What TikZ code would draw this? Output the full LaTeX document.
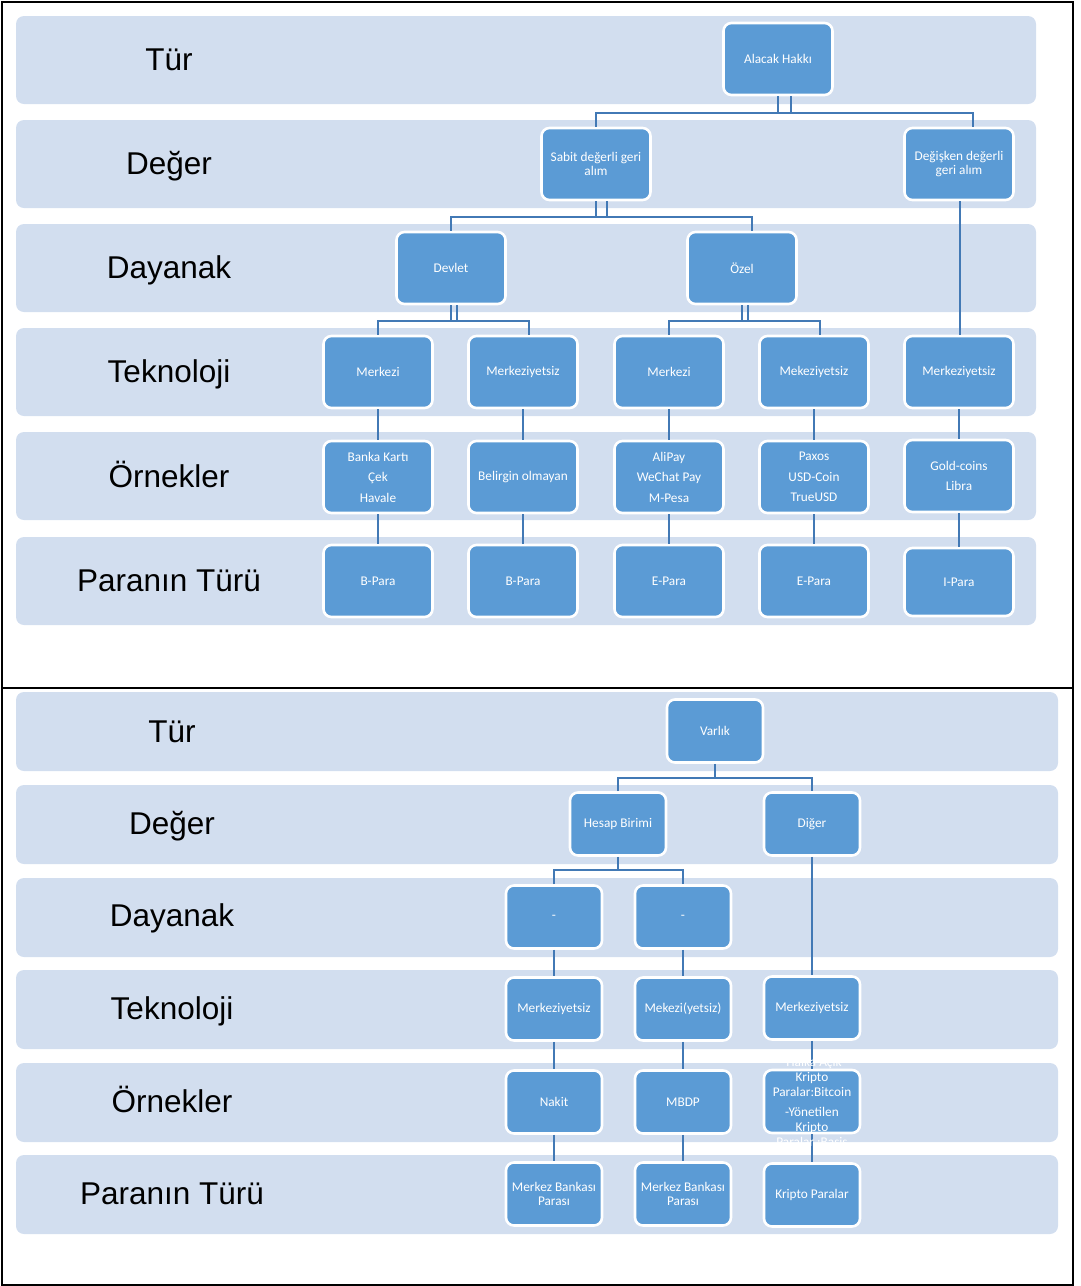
\documentclass[tikz,border=0pt]{standalone}
\usepackage{fontspec}
\setmainfont{Liberation Sans}
\newfontfamily\boxfont{Carlito}
\definecolor{bandfill}{HTML}{D2DEEF}
\definecolor{boxfill}{HTML}{5B9BD5}
\definecolor{linkcol}{HTML}{4279B5}
\tikzset{
  band/.style={fill=bandfill, rounded corners=8pt},
  lbl/.style={font=\fontsize{31.5}{36}\selectfont, text=black, anchor=center,
    text height=22.6pt, text depth=0pt},
  obox/.style={draw=white, line width=2.6pt, fill=boxfill, rounded corners=8pt,
    minimum width=109pt, minimum height=72pt, inner sep=2pt, text=white, align=center,
    font=\boxfont\fontsize{13.3}{14.5}\selectfont},
  sbox/.style={obox, minimum width=96pt, minimum height=63pt},
  tall/.style={font=\boxfont\fontsize{13.3}{20.5}\selectfont},
  conn/.style={draw=linkcol, line width=2.8pt}
}
\begin{document}
\begin{tikzpicture}[x=1pt,y=-1pt]
\useasboundingbox (0,0) rectangle (1081,1286);

% outer frame with the two panels
\draw[line width=2pt] (2,2) rectangle (1073,1285);
\draw[line width=2pt] (2,688) -- (1073,688);

% ---------- upper panel: claim-based money ----------
\foreach \t in {16,120,224,328,432,537}
  \fill[band] (16,\t) rectangle (1036,\t+88);
\node[lbl] (u-l1) at (169,59)  {Tür};
\node[lbl] (u-l2) at (169,163) {Değer};
\node[lbl] (u-l3) at (169,267) {Dayanak};
\node[lbl] (u-l4) at (169,371) {Teknoloji};
\node[lbl] (u-l5) at (169,476) {Örnekler};
\node[lbl] (u-l6) at (169,580) {Paranın Türü};

\node[obox] (alacak)   at (778,59)  {Alacak Hakkı};
\node[obox] (sabit)    at (596,164) {Sabit değerli geri\\alım};
\node[obox] (degisken) at (959,164) {Değişken değerli\\geri alım};
\node[obox] (devlet)   at (451,268) {Devlet};
\node[obox] (ozel)     at (742,268) {Özel};

\node[obox] (t1) at (378,372) {Merkezi};
\node[obox] (t2) at (523,372) {Merkeziyetsiz};
\node[obox] (t3) at (669,372) {Merkezi};
\node[obox] (t4) at (814,372) {Mekeziyetsiz};
\node[obox] (t5) at (959,372) {Merkeziyetsiz};

\node[obox,tall] (o1) at (378,477) {Banka Kartı\\Çek\\Havale};
\node[obox]      (o2) at (523,477) {Belirgin olmayan};
\node[obox,tall] (o3) at (669,477) {AliPay\\WeChat Pay\\M-Pesa};
\node[obox,tall] (o4) at (814,477) {Paxos\\USD-Coin\\TrueUSD};
\node[obox,tall] (o5) at (959,476) {Gold-coins\\Libra};

\node[obox] (p1) at (378,581) {B-Para};
\node[obox] (p2) at (523,581) {B-Para};
\node[obox] (p3) at (669,581) {E-Para};
\node[obox] (p4) at (814,581) {E-Para};
\node[obox, minimum height=68pt] (p5) at (959,582) {I-Para};

\coordinate (ubar1) at (0,113);
\coordinate (ubar2) at (0,217);
\coordinate (ubar3) at (0,321);

\draw[conn] (alacak.south) -- (alacak.south |- ubar1);
\draw[conn] ([xshift=13pt]alacak.south) -- ([xshift=13pt]alacak.south |- ubar1);
\draw[conn] (sabit.north) |- ([xshift=14pt]degisken.north |- ubar1) -- ([xshift=14pt]degisken.north);

\draw[conn] (sabit.south) -- (sabit.south |- ubar2);
\draw[conn] ([xshift=11pt]sabit.south) -- ([xshift=11pt]sabit.south |- ubar2);
\draw[conn] (devlet.north) |- ([xshift=10pt]ozel.north |- ubar2) -- ([xshift=10pt]ozel.north);

\draw[conn] (devlet.south) -- (devlet.south |- ubar3);
\draw[conn] ([xshift=6pt]devlet.south) -- ([xshift=6pt]devlet.south |- ubar3);
\draw[conn] (t1.north) |- ([xshift=6pt]t2.north |- ubar3) -- ([xshift=6pt]t2.north);

\draw[conn] (ozel.south) -- (ozel.south |- ubar3);
\draw[conn] ([xshift=6pt]ozel.south) -- ([xshift=6pt]ozel.south |- ubar3);
\draw[conn] (t3.north) |- ([xshift=6pt]t4.north |- ubar3) -- ([xshift=6pt]t4.north);

\draw[conn] ([xshift=1pt]degisken.south) -- ([xshift=1pt]t5.north);

\foreach \i in {1,...,5} {
  \draw[conn] (t\i.south) -- (o\i.north);
  \draw[conn] (o\i.south) -- (p\i.north);
}

% ---------- lower panel: asset-based money ----------
\foreach \t in {692,785,878,970,1063,1155}
  \fill[band] (16,\t) rectangle (1058,\t+79);
\node[lbl] (l-l1) at (172,731)  {Tür};
\node[lbl] (l-l2) at (172,823)  {Değer};
\node[lbl] (l-l3) at (172,915)  {Dayanak};
\node[lbl] (l-l4) at (172,1008) {Teknoloji};
\node[lbl] (l-l5) at (172,1101) {Örnekler};
\node[lbl] (l-l6) at (172,1193) {Paranın Türü};

\node[sbox] (varlik) at (715,731) {Varlık};
\node[sbox] (hesap)  at (618,824) {Hesap Birimi};
\node[sbox] (diger)  at (812,824) {Diğer};
\node[sbox] (d1) at (554,917) {-};
\node[sbox] (d2) at (683,917) {-};
\node[sbox] (m1) at (554,1009) {Merkeziyetsiz};
\node[sbox] (m2) at (683,1009) {Mekezi(yetsiz)};
\node[sbox] (m3) at (812,1008) {Merkeziyetsiz};
\node[sbox] (e1) at (554,1102) {Nakit};
\node[sbox] (e2) at (683,1102) {MBDP};
\node[sbox] (e3) at (812,1101.5) {};
\node[sbox] (k1) at (554,1194) {Merkez Bankası\\Parası};
\node[sbox] (k2) at (683,1194) {Merkez Bankası\\Parası};
\node[sbox] (k3) at (812,1195) {Kripto Paralar};

\coordinate (lbar1) at (0,778);
\coordinate (lbar2) at (0,870);

\draw[conn] (varlik.south) -- (varlik.south |- lbar1);
\draw[conn] (hesap.north) |- (diger.north |- lbar1) -- (diger.north);
\draw[conn] (hesap.south) -- (hesap.south |- lbar2);
\draw[conn] (d1.north) |- (d2.north |- lbar2) -- (d2.north);
\draw[conn] (diger.south) -- (m3.north);
\draw[conn] (d1.south) -- (m1.north);
\draw[conn] (d2.south) -- (m2.north);
\foreach \i in {1,2,3} {
  \draw[conn] (m\i.south) -- (e\i.north);
  \draw[conn] (e\i.south) -- (k\i.north);
}

% the example text of the crypto box runs past its frame
\node[text=white, align=center, inner sep=0pt,
      font=\boxfont\fontsize{13.3}{15}\selectfont] (e3-text) at (e3.center)
  {-Halka Açık\\Kripto\\Paralar:Bitcoin\\[5pt]-Yönetilen\\Kripto\\Paralar :Basis};
\end{tikzpicture}
\end{document}
